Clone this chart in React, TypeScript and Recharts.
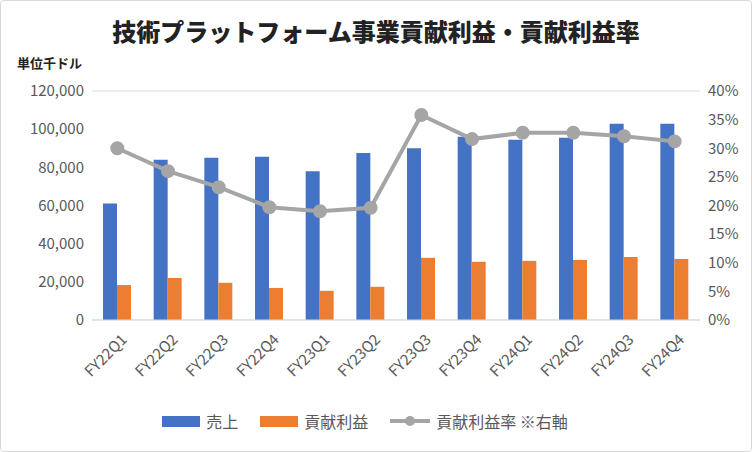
import React from "react";
import {
  ComposedChart,
  Bar,
  Line,
  XAxis,
  YAxis,
  CartesianGrid,
} from "recharts";

const quarters = [
  "FY22Q1", "FY22Q2", "FY22Q3", "FY22Q4",
  "FY23Q1", "FY23Q2", "FY23Q3", "FY23Q4",
  "FY24Q1", "FY24Q2", "FY24Q3", "FY24Q4",
];
const sales = [61000, 84000, 85000, 85500, 78000, 87500, 90000, 96000, 94500, 95500, 102800, 102800];
const profit = [18300, 22000, 19500, 16800, 15300, 17400, 32600, 30500, 31000, 31500, 33000, 32000];
const rate = [0.3, 0.26, 0.232, 0.197, 0.19, 0.196, 0.358, 0.316, 0.327, 0.327, 0.321, 0.312];

const leftTicks = [0, 20000, 40000, 60000, 80000, 100000, 120000];
const rightTicks = [0, 0.05, 0.1, 0.15, 0.2, 0.25, 0.3, 0.35, 0.4];

const data = quarters.map((q, i) => ({
  q,
  sales: sales[i],
  profit: profit[i],
  rate: rate[i],
}));

const FONT = "'Noto Sans CJK JP', 'Noto Sans', sans-serif";
const GREY = "#595959";

const XTick = ({ x, y, payload }: any) => (
  <text
    x={x + 6}
    y={y + 8}
    transform={`rotate(-45, ${x + 6}, ${y + 8})`}
    textAnchor="end"
    dominantBaseline="central"
    fill={GREY}
    fontSize={15}
    fontFamily={FONT}
  >
    {payload.value}
  </text>
);

const LegendItem = ({ kind, color, label }: { kind: string; color: string; label: string }) => (
  <div style={{ display: "flex", alignItems: "center", marginRight: 22 }}>
    {kind === "bar" ? (
      <div style={{ width: 38, height: 11, background: color, marginRight: 6 }} />
    ) : (
      <svg width={40} height={14} style={{ marginRight: 6 }}>
        <line x1={0} y1={7} x2={40} y2={7} stroke={color} strokeWidth={4} />
        <circle cx={20} cy={7} r={5} fill={color} />
      </svg>
    )}
    <span>{label}</span>
  </div>
);

export default function App() {
  return (
    <div
      style={{
        position: "absolute",
        left: 0,
        top: 0,
        width: 750,
        height: 450,
        border: "1px solid #d9d9d9",
        borderRadius: 4,
        background: "#fff",
        fontFamily: FONT,
      }}
    >
      <div
        style={{
          position: "absolute",
          top: 12,
          width: "100%",
          textAlign: "center",
          fontSize: 24,
          fontWeight: 900,
          color: "#222",
        }}
      >
        技術プラットフォーム事業貢献利益・貢献利益率
      </div>
      <div style={{ position: "absolute", left: 16, top: 52, fontSize: 13, fontWeight: "bold", color: "#222" }}>
        単位千ドル
      </div>
      <ComposedChart
        width={752}
        height={452}
        data={data}
        margin={{ top: 91, right: 8, left: 10, bottom: 57 }}
        barGap={0}
        style={{ position: "absolute", left: -1, top: -1 }}
      >
        <CartesianGrid vertical={false} stroke="#d9d9d9" />
        <XAxis
          dataKey="q"
          tick={<XTick />}
          height={75}
          interval={0}
          tickLine={false}
          axisLine={{ stroke: "#d9d9d9" }}
        />
        <YAxis
          yAxisId="l"
          width={82}
          domain={[0, 120000]}
          ticks={leftTicks}
          tickFormatter={(v) => v.toLocaleString("en-US")}
          tick={{ fill: GREY, fontSize: 15, fontFamily: FONT }}
          tickLine={false}
          axisLine={false}
        />
        <YAxis
          yAxisId="r"
          orientation="right"
          width={44}
          domain={[0, 0.4]}
          ticks={rightTicks}
          tickFormatter={(v) => `${Math.round(v * 100)}%`}
          tick={{ fill: GREY, fontSize: 15, fontFamily: FONT }}
          tickLine={false}
          axisLine={false}
        />
        <Bar yAxisId="l" dataKey="sales" fill="#4472c4" barSize={14} isAnimationActive={false} />
        <Bar yAxisId="l" dataKey="profit" fill="#ed7d31" barSize={14} isAnimationActive={false} />
        <Line
          yAxisId="r"
          dataKey="rate"
          stroke="#a5a5a5"
          strokeWidth={4}
          dot={{ r: 5, fill: "#a5a5a5", stroke: "#a5a5a5" }}
          isAnimationActive={false}
        />
      </ComposedChart>
      <div
        style={{
          position: "absolute",
          top: 408,
          width: "100%",
          display: "flex",
          justifyContent: "center",
          fontSize: 16,
          color: GREY,
        }}
      >
        <LegendItem kind="bar" color="#4472c4" label="売上" />
        <LegendItem kind="bar" color="#ed7d31" label="貢献利益" />
        <LegendItem kind="line" color="#a5a5a5" label="貢献利益率 ※右軸" />
      </div>
    </div>
  );
}
